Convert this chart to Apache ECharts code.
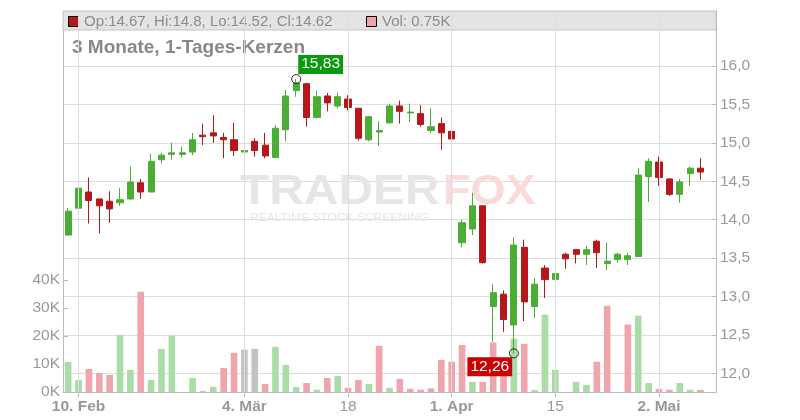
<!DOCTYPE html>
<html><head><meta charset="utf-8">
<script src="https://cdn.jsdelivr.net/npm/echarts@6/dist/echarts.min.js"></script>
<style>html,body{margin:0;padding:0;background:#fff}#c{width:800px;height:420px}</style>
</head><body><div id="c"></div><script>
const dates = ['2025-02-07','2025-02-10','2025-02-11','2025-02-12','2025-02-13','2025-02-14',
'2025-02-17','2025-02-18','2025-02-19','2025-02-20','2025-02-21',
'2025-02-24','2025-02-25','2025-02-26','2025-02-27','2025-02-28',
'2025-03-03','2025-03-04','2025-03-05','2025-03-06','2025-03-07',
'2025-03-10','2025-03-11','2025-03-12','2025-03-13','2025-03-14',
'2025-03-17','2025-03-18','2025-03-19','2025-03-20','2025-03-21',
'2025-03-24','2025-03-25','2025-03-26','2025-03-27','2025-03-28',
'2025-03-31','2025-04-01','2025-04-02','2025-04-03','2025-04-04',
'2025-04-07','2025-04-08','2025-04-09','2025-04-10','2025-04-11',
'2025-04-14','2025-04-15','2025-04-16','2025-04-17',
'2025-04-22','2025-04-23','2025-04-24','2025-04-25',
'2025-04-28','2025-04-29','2025-04-30','2025-05-02',
'2025-05-05','2025-05-06','2025-05-07','2025-05-08','2025-05-09'];
const opens = [13.80,14.15,14.36,14.27,14.24,14.22,14.27,14.48,14.36,14.78,14.85,14.85,14.88,15.10,15.13,15.07,15.04,14.88,15.02,14.97,
14.81,15.17,15.68,15.77,15.33,15.61,15.48,15.57,15.45,15.04,15.14,15.26,15.48,15.39,15.38,15.16,15.25,15.15,13.70,13.88,
14.18,12.87,13.03,12.63,13.64,12.87,13.37,13.22,13.55,13.61,13.55,13.72,13.43,13.48,13.48,13.52,14.56,14.75,14.53,14.33,14.60,14.67];
const closes = [14.11,14.41,14.25,14.18,14.14,14.26,14.49,14.36,14.76,14.84,14.87,14.87,15.04,15.08,15.09,15.04,14.90,14.90,14.90,14.83,
15.19,15.61,15.78,15.33,15.60,15.52,15.60,15.46,15.06,15.34,15.16,15.48,15.41,15.40,15.24,15.21,15.13,15.05,13.96,14.18,
13.44,13.05,12.70,13.67,12.93,13.16,13.22,13.30,13.49,13.55,13.61,13.57,13.46,13.55,13.53,14.58,14.76,14.55,14.33,14.49,14.67,14.62];
const lows = [13.79,14.14,13.95,13.82,13.96,14.18,14.26,14.27,14.36,14.73,14.78,14.81,14.84,14.97,15.00,14.80,14.83,14.76,14.82,14.80,
14.81,15.02,15.60,15.21,15.32,15.41,15.45,15.42,15.03,15.02,14.96,15.25,15.25,15.27,15.21,15.13,14.91,14.95,13.64,13.80,
13.43,12.41,12.54,12.26,12.68,12.72,12.98,13.11,13.36,13.43,13.41,13.37,13.34,13.44,13.41,13.52,14.23,14.44,14.31,14.22,14.44,14.52];
const highs = [14.15,14.45,14.55,14.27,14.37,14.41,14.69,14.53,14.86,14.87,15.00,14.95,15.13,15.25,15.36,15.13,15.26,15.06,15.06,15.13,
15.23,15.69,15.83,15.78,15.68,15.65,15.65,15.62,15.45,15.35,15.28,15.51,15.55,15.51,15.49,15.45,15.33,15.33,14.00,14.35,
14.18,13.16,13.08,13.77,13.74,13.24,13.41,13.34,13.57,13.62,13.66,13.74,13.70,13.57,13.57,14.67,14.80,14.82,14.54,14.53,14.69,14.80];
const volumes = [10750,4300,8200,6800,6100,20400,7900,35800,4300,15400,20100,0,5000,400,1800,8600,14000,15100,15400,2900,
16100,9700,1800,3200,800,5000,5700,1500,4300,2900,16500,1500,4700,1100,800,1300,11500,10800,16800,3600,
3600,17700,10000,19000,17200,700,27600,7900,0,3600,2500,10800,30800,0,24100,27300,3200,1100,800,3200,800,750];
const tickDates = ['2025-02-10','2025-03-04','2025-03-18','2025-04-01','2025-04-15','2025-05-02'];
const tickLabels = ['10. Feb','4. Mär','18','1. Apr','15','2. Mai'];
const tickBold = [true,true,false,true,false,true];

const FONT = '"Liberation Sans", Arial, sans-serif';
const UP = '#4aad34', DN = '#b5171b';
const VUP = '#aadca8', VDN = '#eea5ab', VEQ = '#c2c2c2';
const GRID = '#dddddd', AXIS = '#bbbbbb', LBL = '#999999';

const candleData = opens.map((o, i) => [o, closes[i], lows[i], highs[i]]);
const volData = volumes.map((v, i) => {
  const prev = i > 0 ? closes[i - 1] : opens[i];
  const c = closes[i] > prev ? VUP : (closes[i] < prev ? VDN : VEQ);
  return { value: v, itemStyle: { color: c } };
});
let hiI = 0, loI = 0;
highs.forEach((h, i) => { if (h > highs[hiI]) hiI = i; });
lows.forEach((l, i) => { if (l < lows[loI]) loI = i; });
const fmtP = v => v.toFixed(2).replace('.', ',');
const last = opens.length - 1;
const legendText = 'Op:' + opens[last] + ', Hi:' + highs[last] + ', Lo:' + lows[last] + ', Cl:' + closes[last];
const volText = 'Vol: ' + (volumes[last] / 1000) + 'K';

const chart = echarts.init(document.getElementById('c'), null, { renderer: 'canvas' });
chart.setOption({
  animation: false,
  backgroundColor: '#fff',
  textStyle: { fontFamily: FONT },
  grid: [
    { left: 63, right: 84, top: 11, bottom: 28 },
    { left: 63, right: 84, top: 280, bottom: 28 }
  ],
  xAxis: [
    {
      type: 'category', gridIndex: 0, data: dates, boundaryGap: true,
      axisLine: { lineStyle: { color: AXIS } },
      axisTick: { show: true, alignWithLabel: true, length: 5, lineStyle: { color: AXIS },
        interval: (i, v) => tickDates.includes(v) },
      axisLabel: {
        interval: (i, v) => tickDates.includes(v), margin: 7,
        formatter: v => { const k = tickDates.indexOf(v); if (k < 0) return ''; return (tickBold[k] ? '{b|' : '{n|') + tickLabels[k] + '}'; },
        rich: {
          b: { fontWeight: 'bold', fontSize: 15.5, color: LBL, fontFamily: FONT },
          n: { fontWeight: 'normal', fontSize: 15.5, color: LBL, fontFamily: FONT }
        }
      },
      splitLine: { show: false }
    },
    { type: 'category', gridIndex: 1, data: dates, boundaryGap: true, show: false }
  ],
  yAxis: [
    {
      type: 'value', gridIndex: 0, position: 'right', min: 11.757, max: 16.716, splitNumber: 10,
      axisLine: { show: true, lineStyle: { color: AXIS } },
      axisTick: { show: true, inside: true, length: 4, lineStyle: { color: AXIS } },
      axisLabel: {
        margin: 4, color: LBL, fontSize: 15.5, fontFamily: FONT,
        showMinLabel: false, showMaxLabel: false,
        formatter: v => (v <= 16.01 && v >= 11.99) ? v.toFixed(1).replace('.', ',') : ''
      },
      splitLine: { show: true, lineStyle: { color: GRID, width: 1 } }
    },
    {
      type: 'value', gridIndex: 1, position: 'left', min: 0, max: 40000, interval: 10000,
      axisLine: { show: true, lineStyle: { color: AXIS } },
      axisTick: { show: true, inside: true, length: 5, lineStyle: { color: AXIS } },
      axisLabel: { margin: 3, color: LBL, fontSize: 15.5, fontFamily: FONT, formatter: v => (v / 1000) + 'K' },
      splitLine: { show: false }
    },
    {
      type: 'value', gridIndex: 0, position: 'left', min: 0, max: 1,
      axisLine: { show: true, lineStyle: { color: AXIS } },
      axisTick: { show: false }, axisLabel: { show: false }, splitLine: { show: false }
    }
  ],
  graphic: [
    { type: 'rect', z: 1, silent: true, shape: { x: 63, y: 11, width: 653, height: 19 },
      style: { fill: '#e4e4e4', stroke: '#c4c4c4', lineWidth: 1 } },
    { type: 'rect', z: 5, shape: { x: 68.5, y: 16.5, width: 10, height: 10 }, style: { fill: DN, stroke: '#000', lineWidth: 1 } },
    { type: 'text', z: 5, x: 84, y: 21.5, style: { text: legendText, fill: '#8c8c8c', font: '15px ' + FONT, textVerticalAlign: 'middle' } },
    { type: 'rect', z: 5, shape: { x: 366.5, y: 16.5, width: 10, height: 10 }, style: { fill: VDN, stroke: '#000', lineWidth: 1 } },
    { type: 'text', z: 5, x: 382, y: 21.5, style: { text: volText, fill: '#8c8c8c', font: '15px ' + FONT, textVerticalAlign: 'middle' } },
    { type: 'text', z: 5, x: 72, y: 47.5, style: { text: '3 Monate, 1-Tages-Kerzen', fill: '#888888', font: 'bold 19px ' + FONT, textVerticalAlign: 'middle' } },
    { type: 'text', z: 1.6, silent: true, x: 240, y: 192, scaleX: 1.14, style: { text: 'TRADER', fill: '#e6e6e6', font: 'bold 42px ' + FONT, textVerticalAlign: 'middle' } },
    { type: 'text', z: 1.6, silent: true, x: 443, y: 192, scaleX: 1.07, style: { text: 'FOX', fill: '#fbdada', font: 'bold 42px ' + FONT, textVerticalAlign: 'middle' } },
    { type: 'text', z: 1.6, silent: true, x: 250, y: 218.5, scaleX: 1.2, style: { text: 'REALTIME STOCK SCREENING', fill: '#e6e6e6', font: '10px ' + FONT, textVerticalAlign: 'middle' } }
  ],
  series: [
    {
      type: 'line', xAxisIndex: 0, yAxisIndex: 0, z: 1.5, data: [], silent: true, symbol: 'none',
      markLine: {
        silent: true, symbol: ['none', 'none'], label: { show: false },
        lineStyle: { color: GRID, type: 'solid', width: 1 },
        data: tickDates.map(d => ({ xAxis: d }))
      }
    },
    {
      type: 'bar', xAxisIndex: 1, yAxisIndex: 1, z: 2, barWidth: '64%', data: volData
    },
    {
      type: 'candlestick', xAxisIndex: 0, yAxisIndex: 0, z: 3, barWidth: '64%', data: candleData,
      itemStyle: { color: UP, color0: DN, borderColor: UP, borderColor0: DN, borderWidth: 1 },
      markPoint: {
        silent: true,
        data: [
          { coord: [dates[hiI], highs[hiI]], symbol: 'circle', symbolSize: 9,
            itemStyle: { color: 'rgba(0,0,0,0)', borderColor: '#222', borderWidth: 1 },
            label: { show: true, formatter: fmtP(highs[hiI]), position: [7, -19], backgroundColor: '#0b9a0b',
              color: '#fff', fontSize: 15.5, fontFamily: FONT, padding: [1, 3, 2, 3], lineHeight: 16 } },
          { coord: [dates[loI], lows[loI]], symbol: 'circle', symbolSize: 9,
            itemStyle: { color: 'rgba(0,0,0,0)', borderColor: '#222', borderWidth: 1 },
            label: { show: true, formatter: fmtP(lows[loI]), position: [-41.5, 9], backgroundColor: '#cc0000',
              color: '#fff', fontSize: 15.5, fontFamily: FONT, padding: [1, 3, 2, 3], lineHeight: 16 } }
        ]
      }
    }
  ]
});
</script></body></html>
